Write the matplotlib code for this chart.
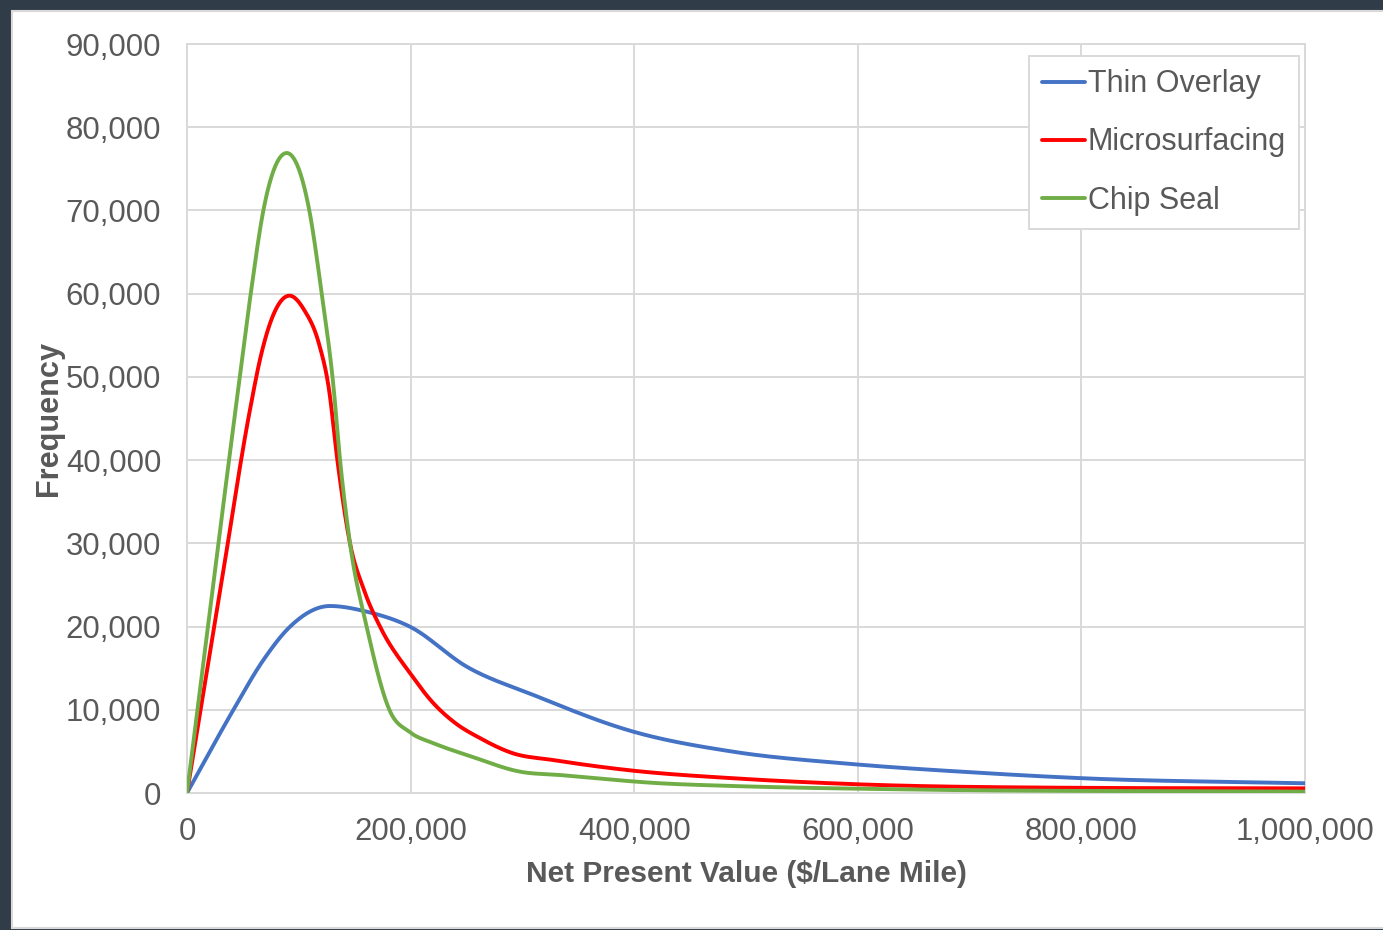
import numpy as np
import matplotlib
matplotlib.use("Agg")
import matplotlib.pyplot as plt
from matplotlib.patches import Rectangle
from matplotlib.ticker import FuncFormatter, MultipleLocator

plt.rcParams["font.family"] = ["Liberation Sans", "DejaVu Sans"]

# Net present value ($/lane mile) and simulated frequency for each treatment
thin_overlay_npv = [0, 41400, 68300, 92100, 127900, 160700, 199500, 250200,
                    309800, 399200, 488600, 593000, 700000, 801700, 1000000]
thin_overlay_freq = [0, 9970, 15980, 19980, 22470, 21790, 19980, 15180,
                     11780, 7370, 4960, 3500, 2500, 1770, 1170]

micro_npv = [0, 30000, 56400, 66000, 75000, 91700, 105000, 118000, 127000,
             134500, 145800, 158000, 172600, 200000, 220300, 240000, 262000,
             291600, 327000, 399200, 488600, 593000, 800000, 1000000]
micro_freq = [0, 24600, 46100, 52500, 56700, 59760, 58000, 54000, 48500,
              40000, 30000, 24500, 20000, 14300, 10800, 8400, 6600, 4770,
              3970, 2680, 1770, 1080, 620, 560]

chip_npv = [0, 44500, 57000, 68300, 89200, 109400, 120500, 130900, 136900,
            145800, 160700, 181000, 199500, 220300, 254700, 298000, 333600,
            423000, 488400, 637700, 1000000]
chip_freq = [0, 47200, 60000, 70000, 76900, 70000, 60000, 49000, 40000,
             30000, 20000, 10000, 7300, 6000, 4370, 2560, 2160, 1170, 840,
             440, 160]

series_names = ["Thin Overlay", "Microsurfacing", "Chip Seal"]
series_colors = ["#4472C4", "#FF0000", "#70AD47"]

x_max = 1000000
y_max = 90000


def smooth_curve(xs, ys, n=40):
    """Piecewise cubic Hermite line through the points (no overshoot)."""
    x = np.asarray(xs, float)
    y = np.asarray(ys, float)
    h = np.diff(x)
    d = np.diff(y) / h
    m = np.empty_like(y)
    m[0], m[-1] = d[0], d[-1]
    for i in range(1, len(x) - 1):
        if d[i - 1] * d[i] <= 0:
            m[i] = 0.0
        else:
            mi = (h[i] * d[i - 1] + h[i - 1] * d[i]) / (h[i - 1] + h[i])
            lim = 3 * min(abs(d[i - 1]), abs(d[i]))
            m[i] = np.sign(mi) * min(abs(mi), lim)
    px, py = [], []
    t = np.linspace(0, 1, n)
    for i in range(len(h)):
        h00 = 2 * t**3 - 3 * t**2 + 1
        h10 = t**3 - 2 * t**2 + t
        h01 = -2 * t**3 + 3 * t**2
        h11 = t**3 - t**2
        seg_y = h00 * y[i] + h10 * h[i] * m[i] + h01 * y[i + 1] + h11 * h[i] * m[i + 1]
        seg_x = x[i] + t * h[i]
        s = slice(None) if i == 0 else slice(1, None)
        px.append(seg_x[s])
        py.append(seg_y[s])
    return np.concatenate(px), np.concatenate(py)


W, H = 1383, 930
fig = plt.figure(figsize=(W / 100, H / 100), dpi=100)
fig.patch.set_facecolor("#303d49")

# white chart panel
fig.add_artist(Rectangle((12 / W, 2 / H), (W - 12) / W + 0.01, (H - 13) / H,
                         transform=fig.transFigure, facecolor="white",
                         edgecolor="#d9d9d9", linewidth=1.5, zorder=0))

ax = fig.add_axes([187 / W, 137 / H, 1118 / W, 749 / H])
ax.set_facecolor("white")

for xs, ys, name, color in zip([thin_overlay_npv, micro_npv, chip_npv],
                               [thin_overlay_freq, micro_freq, chip_freq],
                               series_names, series_colors):
    cx, cy = smooth_curve(xs, ys)
    ax.plot(cx, cy, color=color, lw=2.8, label=name, solid_capstyle="round",
            solid_joinstyle="round", zorder=3)

ax.set_xlim(0, x_max)
ax.set_ylim(0, y_max)
ax.xaxis.set_major_locator(MultipleLocator(200000))
ax.yaxis.set_major_locator(MultipleLocator(10000))
fmt = FuncFormatter(lambda v, p: f"{int(round(v)):,}")
ax.xaxis.set_major_formatter(fmt)
ax.yaxis.set_major_formatter(fmt)

ax.grid(True, color="#d9d9d9", lw=1.4, zorder=0)
ax.set_axisbelow(True)
for s in ax.spines.values():
    s.set_color("#d9d9d9")
    s.set_linewidth(1.4)

fs = 22.4
ax.tick_params(axis="both", length=0, labelsize=fs, labelcolor="#595959")
ax.tick_params(axis="y", pad=18.5)
ax.tick_params(axis="x", pad=17)

ax.set_xlabel("Net Present Value ($/Lane Mile)", fontsize=21.5,
              fontweight="bold", color="#595959", labelpad=9.5)
ax.set_ylabel("Frequency", fontsize=22.1, fontweight="bold",
              color="#595959", labelpad=1.2)

leg = ax.legend(loc="upper right",
                bbox_to_anchor=((1299 - 187) / 1118, (793 - 56) / 749),
                fontsize=22, frameon=True, fancybox=False, framealpha=1,
                edgecolor="#d9d9d9", handlelength=1.38, handletextpad=0.1,
                labelspacing=0.92, borderpad=0.435, borderaxespad=0)
leg.get_frame().set_linewidth(1.4)
for t in leg.get_texts():
    t.set_color("#595959")
for l in leg.get_lines():
    l.set_linewidth(2.8)

fig.savefig("out.png", dpi=100, facecolor=fig.get_facecolor())
